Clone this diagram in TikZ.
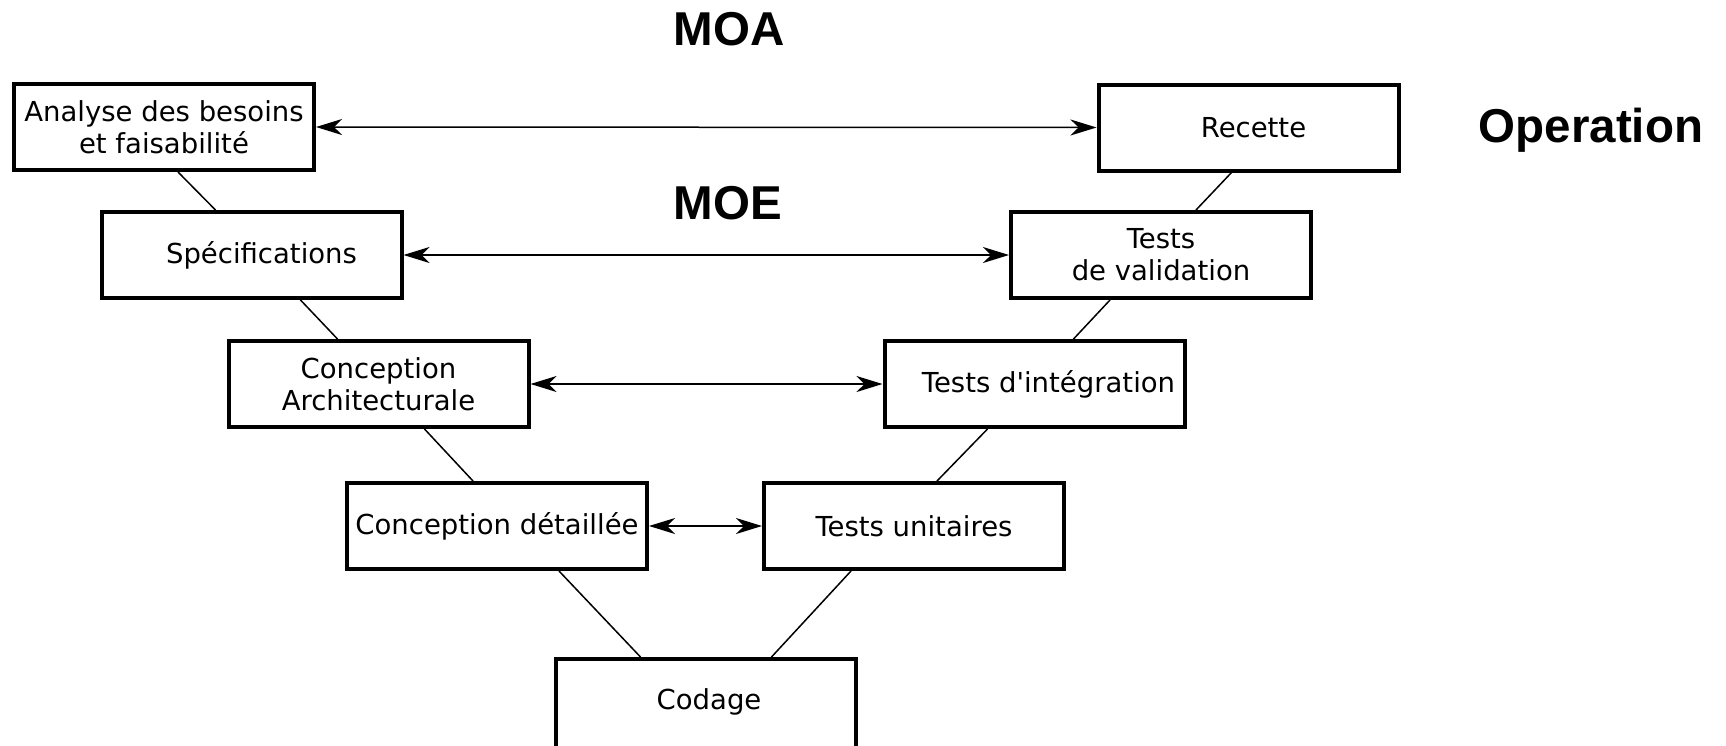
\documentclass[tikz,border=0pt]{standalone}
\usepackage{fontspec}
\setmainfont{DejaVu Sans}
\newfontfamily\titlefont{Liberation Sans}
\usetikzlibrary{arrows.meta}
\tikzset{
  box/.style={draw=black, line width=4pt, minimum width=300pt, minimum height=86pt,
    inner sep=0pt, align=center, font=\fontsize{27.5}{32}\selectfont},
  link/.style={line width=1.5pt},
  both/.style={line width=1.5pt, {Stealth[length=26pt,width=16pt,inset=8pt]}-{Stealth[length=26pt,width=16pt,inset=8pt]}},
  title/.style={anchor=base, inner sep=0pt, font=\titlefont\bfseries\fontsize{47.5}{52}\selectfont}
}
\begin{document}
\begin{tikzpicture}[x=1pt,y=-1pt]
\useasboundingbox (0,0) rectangle (1726,745);
% left branch
\node[box] (a)  at (164,127) {Analyse des besoins\\et faisabilité};
\node[box] (s)  at (251.5,255) {\hspace*{20pt}Spécifications};
\node[box] (ca) at (378.5,384) {Conception\\Architecturale};
\node[box] (cd) at (497,526) {Conception détaillée};
% bottom
\node[box, minimum height=96pt] (co) at (705.5,707) {\hspace*{7pt}\raisebox{16pt}{Codage}};
% right branch
\node[box] (tu) at (914,526) {Tests unitaires};
\node[box] (ti) at (1034.5,384) {\hspace*{28pt}Tests d\textquotesingle intégration};
\node[box] (tv) at (1161,255) {Tests\\de validation};
\node[box] (r)  at (1248.5,127.5) {\hspace*{10pt}Recette};
% titles
\node[title] (moa) at (729,45) {MOA};
\node[title] (moe) at (728,219) {MOE};
\node[title] (op)  at (1591,142) {Operation};
% V connectors
\draw[link] ([xshift=14pt]a.south)  -- ([xshift=-36pt]s.north);
\draw[link] ([xshift=49pt]s.south)  -- ([xshift=-41pt]ca.north);
\draw[link] ([xshift=46pt]ca.south) -- ([xshift=-24pt]cd.north);
\draw[link] ([xshift=62pt]cd.south) -- ([xshift=-65pt]co.north);
\draw[link] ([xshift=-63pt]tu.south) -- ([xshift=66pt]co.north);
\draw[link] ([xshift=-47pt]ti.south) -- ([xshift=23pt]tu.north);
\draw[link] ([xshift=-51pt]tv.south) -- ([xshift=39pt]ti.north);
\draw[link] ([xshift=-17pt]r.south)  -- ([xshift=35pt]tv.north);
% horizontal double arrows
\draw[both] (a.east)  -- (r.west);
\draw[both] (s.east)  -- (tv.west);
\draw[both] (ca.east) -- (ti.west);
\draw[both] (cd.east) -- (tu.west);
\end{tikzpicture}
\end{document}
